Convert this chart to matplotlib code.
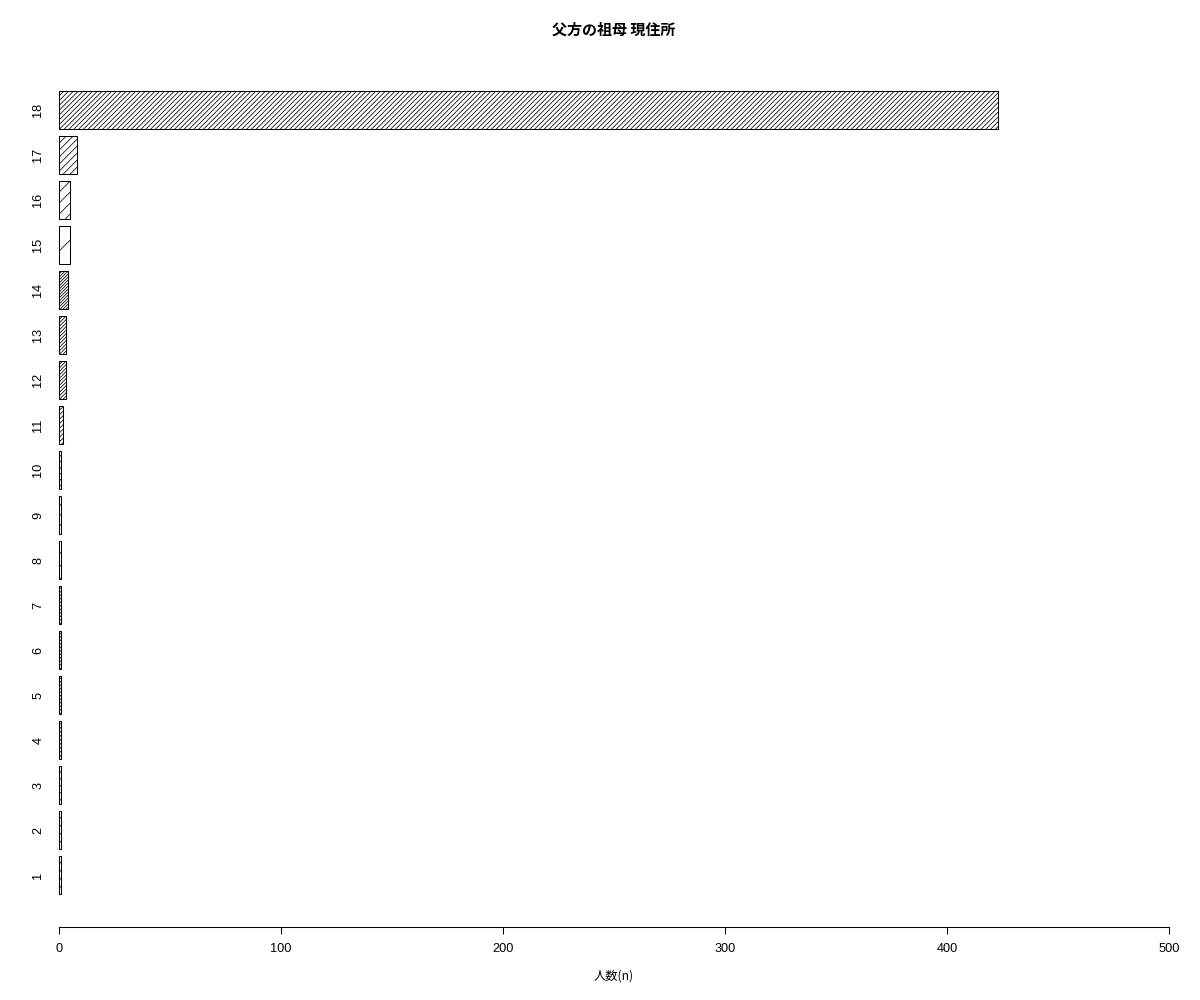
import matplotlib
matplotlib.use("Agg")
import matplotlib.pyplot as plt
import numpy as np

categories = ["1", "2", "3", "4", "5", "6", "7", "8", "9", "10",
              "11", "12", "13", "14", "15", "16", "17", "18"]
counts = [1, 1, 1, 1, 1, 1, 1, 1, 1, 1, 2, 3, 3, 4, 5, 5, 8, 423]
x_ticks = [0, 100, 200, 300, 400, 500]
title = "父方の祖母 現住所"
xlabel = "人数(n)"

# hatch spacing in pixels (horizontal) per bar -- style only
hatch_px = [8, 8, 7, 4, 3.5, 3.5, 3.5, 13, 10, 6, 4.5, 3.5, 3.5, 3, 25, 11, 7, 4.8]

W, H, DPI = 1200, 1000, 100
fig = plt.figure(figsize=(W / DPI, H / DPI), dpi=DPI)
left, right, top, bottom = 59, 1169, 59.1, 925.9
ax = fig.add_axes([left / W, 1 - bottom / H, (right - left) / W, (bottom - top) / H])
ax.set_xlim(0, 500)
ax.set_ylim(-0.656, 22.456)

pos = [1.2 * (i + 1) - 0.5 for i in range(len(categories))]
bars = ax.barh(pos, counts, height=1.0, left=0, color='white', edgecolor='black',
               linewidth=0.75, zorder=2)

fig.canvas.draw()
inv = ax.transData.inverted()
for rect, s in zip(bars.patches, hatch_px):
    bb = rect.get_window_extent()
    x0, y0, x1, y1 = bb.x0, bb.y0, bb.x1, bb.y1
    h = y1 - y0
    cs = np.arange(x0 - h, x1 + s, s)
    for c in cs:
        pts = np.array([[c - 2, y0 - 2], [c + h + 2, y1 + 2]])
        d = inv.transform(pts)
        ln, = ax.plot(d[:, 0], d[:, 1], color='black', lw=0.55, zorder=2.5,
                      solid_capstyle='butt', antialiased=True)
        ln.set_clip_path(rect)

for s in ['top', 'right', 'left']:
    ax.spines[s].set_visible(False)
ax.spines['bottom'].set_position(('outward', 1))
ax.spines['bottom'].set_linewidth(0.75)
ax.set_xticks(x_ticks)
ax.set_xticklabels([str(t) for t in x_ticks], family=['Liberation Sans', 'DejaVu Sans'], fontsize=9.2)
ax.tick_params(axis='x', length=5, width=0.75, pad=6.5, color='black')
ax.set_yticks(pos)
ax.set_yticklabels(categories, rotation=90, va='center', family=['Liberation Sans', 'DejaVu Sans'], fontsize=9.2)
ax.tick_params(axis='y', length=0, pad=10.5)

fig.text((left + right) / 2 / W, 1 - 30 / H, title, ha='center', va='center',
         family=['Noto Sans CJK JP', 'DejaVu Sans'], fontsize=10.8, fontweight='bold')
fig.text((left + right) / 2 / W, 1 - 976 / H, xlabel, ha='center', va='center',
         family=['Noto Sans CJK JP', 'DejaVu Sans'], fontsize=8.8)

fig.savefig("out.png", dpi=DPI, facecolor='white')
